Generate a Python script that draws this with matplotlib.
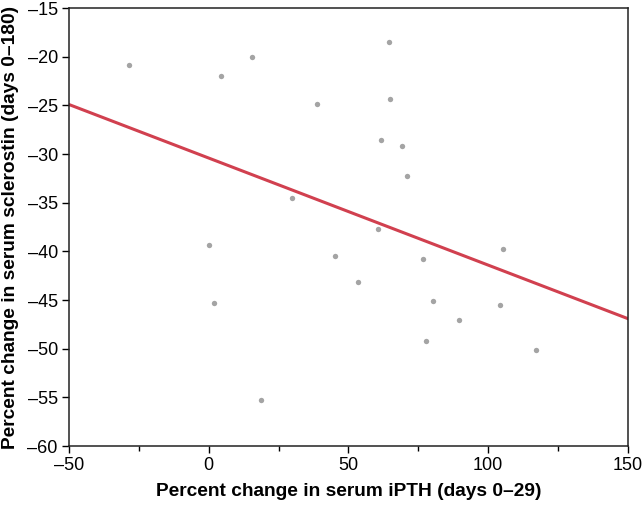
import numpy as np
import matplotlib
matplotlib.use("Agg")
import matplotlib.pyplot as plt
from matplotlib.ticker import MultipleLocator

plt.rcParams["font.family"] = ["Liberation Sans", "DejaVu Sans"]

# scatter data
ipth_change = [-28.5, 4.4, 15.5, 38.7, 64.7, 65.0, 61.5, 69.1, 70.8, 29.8,
               60.6, 0.0, 1.9, 18.6, 45.2, 53.3, 76.7, 80.3, 77.6, 89.5,
               104.1, 105.2, 117.1]
scl_change = [-20.8, -22.0, -20.0, -24.9, -18.5, -24.3, -28.5, -29.2, -32.2, -34.5,
              -37.7, -39.3, -45.3, -55.3, -40.5, -43.1, -40.8, -45.1, -49.2, -47.0,
              -45.5, -39.7, -50.1]

# regression line endpoints
fit_x = [-50, 150]
fit_y = [-24.9, -46.9]

x_ticks = [-50, 0, 50, 100, 150]
y_ticks = [-60, -55, -50, -45, -40, -35, -30, -25, -20, -15]


def dash(v):
    return str(v).replace("-", "\u2013")


fig = plt.figure(figsize=(6.44, 5.07), dpi=100)
ax = fig.add_axes([0.107, 0.12, 0.868, 0.864])

ax.scatter(ipth_change, scl_change, s=15, color="#a4a4a4", linewidths=0, zorder=3)
ax.plot(fit_x, fit_y, color="#d1404f", lw=2.2, zorder=2)

ax.set_xticks(x_ticks)
ax.set_xticklabels([dash(v) for v in x_ticks])
ax.set_yticks(y_ticks)
ax.set_yticklabels([dash(v) for v in y_ticks])
ax.xaxis.set_minor_locator(MultipleLocator(25))
ax.set_xlim(-50, 150)
ax.set_ylim(-60, -15)

ax.tick_params(axis="both", which="major", direction="out", length=5, width=1,
               labelsize=13, pad=3, color="black")
ax.tick_params(axis="x", which="minor", direction="out", length=3.5, width=1)

for sp in ax.spines.values():
    sp.set_linewidth(1.1)
    sp.set_color("#222222")

ax.set_xlabel("Percent change in serum iPTH (days 0\u201329)", fontsize=13.8,
              fontweight="bold", labelpad=6)
ax.set_ylabel("Percent change in serum sclerostin (days 0\u2013180)", fontsize=13.8,
              fontweight="bold", labelpad=6)

fig.savefig("out.png", dpi=100)
